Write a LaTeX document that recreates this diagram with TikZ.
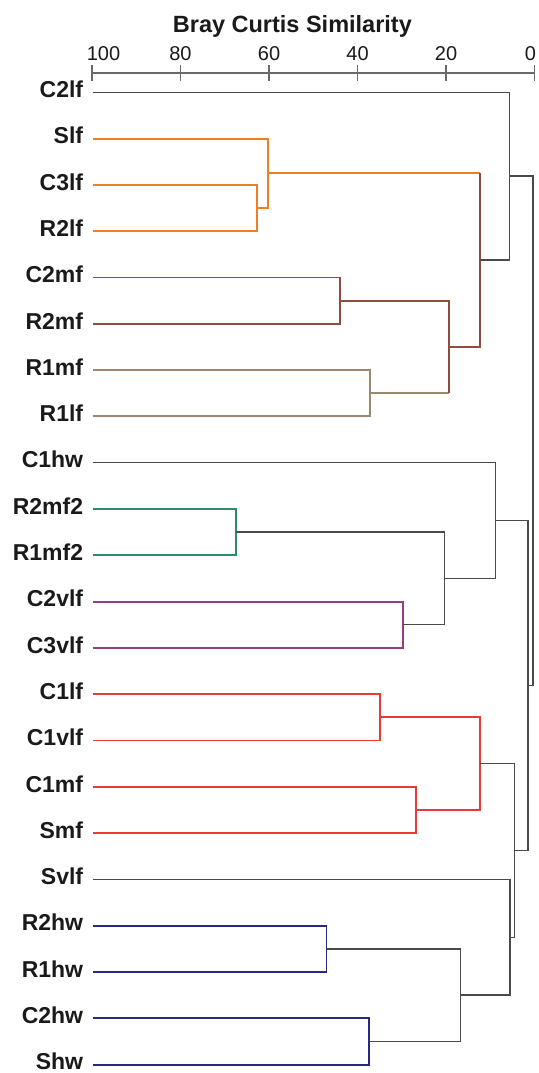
\documentclass[tikz,border=0pt]{standalone}
\usepackage{fontspec}
\setmainfont{Liberation Sans}
\definecolor{cOrange}{HTML}{EE7F24}
\definecolor{cBrown}{HTML}{8E4E3E}
\definecolor{cTan}{HTML}{9E8770}
\definecolor{cGreen}{HTML}{2F8C68}
\definecolor{cPurple}{HTML}{9B3B7E}
\definecolor{cRed}{HTML}{E8393B}
\definecolor{cNavy}{HTML}{282880}
\definecolor{cLine}{HTML}{4A4A4A}
\definecolor{cAxis}{HTML}{6A6A6A}
\definecolor{cText}{HTML}{1A1A1A}
\begin{document}
\begin{tikzpicture}[x=1pt,y=-1pt,
  lab/.style={anchor=east,inner sep=0pt,yshift=3pt,text=cText,font=\fontsize{23}{24}\selectfont\bfseries,text height=16.5pt,text depth=0pt},
  ticklab/.style={anchor=base,inner sep=0pt,text=cText,font=\fontsize{20}{22}\selectfont},
  titlelab/.style={anchor=base,inner sep=0pt,text=cText,font=\fontsize{23.5}{24}\selectfont\bfseries},
  br/.style={line width=1.45pt,draw=cLine},
  co/.style={line width=1.9pt,draw=#1},
  axisline/.style={line width=1.7pt,draw=cAxis}]
\useasboundingbox (0,0) rectangle (538,1073);
% title and axis
\node[titlelab] (title) at (292.4,32.3) {Bray Curtis Similarity};
\coordinate (ax0) at (92,72.7);
\coordinate (ax1) at (534.5,72.7);
\draw[axisline] (ax0) -- (ax1);
\foreach \v/\lx in {100/103.5,80/180.5,60/269,40/357.5,20/446,0/530.5}{
  \pgfmathsetmacro{\tx}{534.5-4.425*\v}
  \coordinate (tk\v) at (\tx,72.7);
  \draw[axisline] ([yshift=-7.8pt]tk\v) -- ([yshift=8pt]tk\v);
  \node[ticklab] (tl\v) at (\lx,61) {\v};
}
% leaves
\foreach \n/\i in {C2lf/0,Slf/1,C3lf/2,R2lf/3,C2mf/4,R2mf/5,R1mf/6,R1lf/7,C1hw/8,R2mf2/9,R1mf2/10,C2vlf/11,C3vlf/12,C1lf/13,C1vlf/14,C1mf/15,Smf/16,Svlf/17,R2hw/18,R1hw/19,C2hw/20,Shw/21}{
  \pgfmathsetmacro{\ly}{92.3+46.3*\i}
  \node[lab] (n\n) at (83.3,\ly) {\n};
  \coordinate (l\n) at (92.7,\ly);
}
% merge points
\coordinate (mA) at (256.7,208.05);
\coordinate (mB) at (268.3,173.3);
\coordinate (mC) at (340.2,300.65);
\coordinate (mD) at (370.4,393.25);
\coordinate (mE) at (448.7,346.95);
\coordinate (mF) at (480,260.1);
\coordinate (mG) at (509.3,176.2);
\coordinate (mH) at (236.4,532.15);
\coordinate (mI) at (403.1,624.75);
\coordinate (mJ) at (444.7,578.45);
\coordinate (mK) at (495.3,520.6);
\coordinate (mL) at (379.7,717.35);
\coordinate (mM) at (416.2,809.95);
\coordinate (mN) at (480,763.65);
\coordinate (mO) at (326.5,948.85);
\coordinate (mP) at (368.7,1041.45);
\coordinate (mQ) at (460.7,995.15);
\coordinate (mR) at (510,937.3);
\coordinate (mS) at (514.7,850.5);
\coordinate (mT) at (528,685.55);
\coordinate (root) at (533,430.9);
% orange cluster
\draw[co=cOrange] (lC3lf) -| (mA);
\draw[co=cOrange] (lR2lf) -| (mA);
\draw[co=cOrange] (lSlf) -| (mB);
\draw[co=cOrange] (mA) -| (mB);
\draw[co=cOrange] (mB) -- (mB -| mF);
\draw[co=cBrown] (mB -| mF) -- (mF);
% brown cluster
\draw[co=cBrown] (lC2mf) -| (mC);
\draw[co=cBrown] (lR2mf) -| (mC);
\draw[co=cBrown] (mC) -| (mE);
\draw[co=cTan] (lR1mf) -| (mD);
\draw[co=cTan] (lR1lf) -| (mD);
\draw[co=cTan] (mD) -- (mD -| mE);
\draw[co=cBrown] (mD -| mE) -- (mE);
\draw[co=cBrown] (mE) -| (mF);
% upper black
\draw[br] (mF) -| (mG);
\draw[br] (lC2lf) -| (mG);
\draw[br] (mG) -| (root);
% middle cluster
\draw[co=cGreen] (lR2mf2) -| (mH);
\draw[co=cGreen] (lR1mf2) -| (mH);
\draw[co=cPurple] (lC2vlf) -| (mI);
\draw[co=cPurple] (lC3vlf) -| (mI);
\draw[br] (mH) -| (mJ);
\draw[br] (mI) -| (mJ);
\draw[br] (lC1hw) -| (mK);
\draw[br] (mJ) -| (mK);
\draw[br] (mK) -| (mT);
% red cluster
\draw[co=cRed] (lC1lf) -| (mL);
\draw[co=cRed] (lC1vlf) -| (mL);
\draw[co=cRed] (lC1mf) -| (mM);
\draw[co=cRed] (lSmf) -| (mM);
\draw[co=cRed] (mL) -| (mN);
\draw[co=cRed] (mM) -| (mN);
\draw[br] (mN) -| (mS);
% navy cluster
\draw[co=cNavy] (lR2hw) -| (mO);
\draw[co=cNavy] (lR1hw) -| (mO);
\draw[co=cNavy] (lC2hw) -| (mP);
\draw[co=cNavy] (lShw) -| (mP);
\draw[br] (mO) -| (mQ);
\draw[br] (mP) -| (mQ);
\draw[br] (lSvlf) -| (mR);
\draw[br] (mQ) -| (mR);
\draw[br] (mR) -| (mS);
\draw[br] (mS) -| (mT);
\draw[br] (mT) -| (root);
\end{tikzpicture}
\end{document}
